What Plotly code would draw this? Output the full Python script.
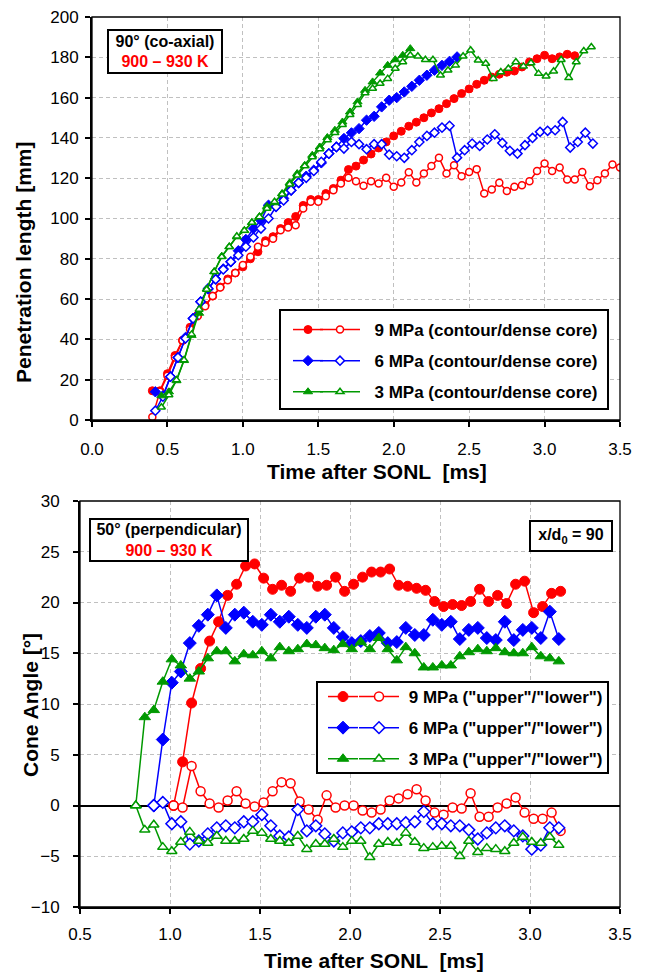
import plotly.graph_objects as go

# ---------------- top panel: penetration length, 90 deg (co-axial) ----------------
top_t9 = [0.40, 0.45, 0.50, 0.55, 0.60, 0.65, 0.70, 0.75, 0.80, 0.85, 0.90, 0.95, 1.00, 1.05, 1.10, 1.15,
          1.20, 1.25, 1.30, 1.35, 1.40, 1.45, 1.50, 1.55, 1.60, 1.65, 1.70, 1.75, 1.80, 1.85, 1.90, 1.95,
          2.00, 2.05, 2.10, 2.15, 2.20, 2.25, 2.30, 2.35, 2.40, 2.45, 2.50, 2.55, 2.60, 2.65, 2.70, 2.75,
          2.80, 2.85, 2.90, 2.95, 3.00, 3.05, 3.10, 3.15, 3.20, 3.25, 3.30, 3.35, 3.40, 3.45, 3.50]
top_t6 = [0.42, 0.47, 0.52, 0.57, 0.62, 0.67, 0.72, 0.77, 0.82, 0.87, 0.92, 0.97, 1.02, 1.07, 1.12, 1.17,
          1.22, 1.27, 1.32, 1.37, 1.42, 1.47, 1.52, 1.57, 1.62, 1.67, 1.72, 1.77, 1.82, 1.87, 1.92, 1.97,
          2.02, 2.07, 2.12, 2.17, 2.22, 2.27, 2.32, 2.37, 2.42, 2.47, 2.52, 2.57, 2.62, 2.67, 2.72, 2.77,
          2.82, 2.87, 2.92, 2.97, 3.02, 3.07, 3.12, 3.17, 3.22, 3.27, 3.32]
top_t3 = [0.46, 0.51, 0.56, 0.61, 0.66, 0.71, 0.76, 0.81, 0.86, 0.91, 0.96, 1.01, 1.06, 1.11, 1.16, 1.21,
          1.26, 1.31, 1.36, 1.41, 1.46, 1.51, 1.56, 1.61, 1.66, 1.71, 1.76, 1.81, 1.86, 1.91, 1.96, 2.01,
          2.06, 2.11, 2.16, 2.21, 2.26, 2.31, 2.36, 2.41, 2.46, 2.51, 2.56, 2.61, 2.66, 2.71, 2.76, 2.81,
          2.86, 2.91, 2.96, 3.01, 3.06, 3.11, 3.16, 3.21, 3.26, 3.31]

pen9_contour = [14.5, 14.5, 23, 32, 39.5, 46, 52, 57, 61.5, 66, 70, 73, 76, 80, 83.5, 89, 91, 95, 98, 101,
                106.5, 109.4, 109.4, 112.4, 114.9, 119, 124.3, 126, 129, 132, 135, 138, 141, 143.3, 145.8,
                147.8, 150, 152.4, 154.5, 157, 159.5, 162, 164.3, 166.6, 168.6, 170.2, 171.6, 172.6, 173.2,
                175.2, 177.7, 179.3, 181, 179.3, 180.2, 181.5, 180.8]
pen9_core = [1.5, 14, 22, 31, 39.5, 45, 51.5, 56.5, 61.5, 65.8, 69.4, 73, 76.9, 81, 86, 88, 90, 94.2, 95.5,
             96.7, 105, 108.3, 108.3, 111, 114, 117.4, 120.2, 118.5, 116.2, 118.5, 117.4, 120.2, 115.7,
             117.9, 123, 117.9, 122.3, 126.1, 130.2, 122.3, 126.4, 121, 123.1, 124.5, 112.4, 114.4, 117.7,
             113.6, 115.7, 116.5, 118.5, 123.6, 127.3, 123.6, 125.3, 119.3, 119.3, 123.1, 116, 119, 122.3,
             126.8, 125.3]
pen6_contour = [14, 12, 21.5, 31, 41, 50.4, 58.7, 65, 70, 75, 78.5, 84, 89.6, 95, 99, 106.6, 106, 110, 114,
                117.7, 121, 124, 127.6, 132.2, 135.5, 139.7, 142.5, 144.6, 148.8, 150.7, 155.4, 158.7, 160,
                162.8, 165.6, 168.6, 171.1, 173.6, 176, 178, 180.2]
pen6_core = [4.6, 11.6, 21.5, 31, 40.5, 50.4, 58.7, 65.3, 69.8, 74.7, 78.5, 81.8, 86, 90.6, 95, 100, 105.8,
             109, 114, 117.7, 120.2, 123.6, 128.1, 132.2, 135.5, 134.7, 138, 136.9, 134.4, 136.9, 136.9,
             131.7, 130.9, 130.1, 133.9, 138, 141, 142.6, 145.1, 146, 130.2, 133.9, 137.2, 136, 139.2,
             141.8, 137.5, 133.6, 132.2, 136.4, 140, 143, 143.5, 143.8, 147.9, 135.2, 138, 142.6, 137.2]
pen3_contour = [12, 14, 19.5, 29.5, 42, 53, 65, 73.6, 81.3, 86, 90.9, 94, 98, 101, 106, 107.8, 112.4, 117.7,
                122.3, 126.4, 131.4, 135.5, 140.2, 143.8, 147.9, 152.9, 157.9, 163.6, 167.8, 172.2, 176,
                178.8, 181, 184.3]
pen3_core = [6.3, 12.4, 19.8, 29.8, 42.5, 54.9, 64.8, 73.6, 81, 86, 91.2, 94, 98, 100.8, 105, 108.3, 112,
             117, 121.5, 126, 130.5, 134.5, 139, 142.5, 146.5, 151.5, 156.5, 162.3, 164.5, 167, 169.4,
             174.4, 177.7, 181, 180.5, 178.8, 178.8, 171.1, 173.6, 176, 180.5, 183.5, 178.5, 176.9, 169.4,
             172.7, 174.4, 177.7, 175.5, 177.2, 171.9, 170.6, 173.1, 178.8, 169.8, 177.7, 183.1, 185.1]

# ---------------- bottom panel: cone angle, 50 deg (perpendicular) ----------------
bot_t9 = [1.02, 1.07, 1.12, 1.17, 1.22, 1.27, 1.32, 1.37, 1.42, 1.47, 1.52, 1.57, 1.62, 1.67, 1.72, 1.77,
          1.82, 1.87, 1.92, 1.97, 2.02, 2.07, 2.12, 2.17, 2.22, 2.27, 2.32, 2.37, 2.42, 2.47, 2.52, 2.57,
          2.62, 2.67, 2.72, 2.77, 2.82, 2.87, 2.92, 2.97, 3.02, 3.07, 3.12, 3.17]
bot_t6 = [0.91, 0.96, 1.01, 1.06, 1.11, 1.16, 1.21, 1.26, 1.31, 1.36, 1.41, 1.46, 1.51, 1.56, 1.61, 1.66,
          1.71, 1.76, 1.81, 1.86, 1.91, 1.96, 2.01, 2.06, 2.11, 2.16, 2.21, 2.26, 2.31, 2.36, 2.41, 2.46,
          2.51, 2.56, 2.61, 2.66, 2.71, 2.76, 2.81, 2.86, 2.91, 2.96, 3.01, 3.06, 3.11, 3.16]
bot_t3 = [0.81, 0.86, 0.91, 0.96, 1.01, 1.06, 1.11, 1.16, 1.21, 1.26, 1.31, 1.36, 1.41, 1.46, 1.51, 1.56,
          1.61, 1.66, 1.71, 1.76, 1.81, 1.86, 1.91, 1.96, 2.01, 2.06, 2.11, 2.16, 2.21, 2.26, 2.31, 2.36,
          2.41, 2.46, 2.51, 2.56, 2.61, 2.66, 2.71, 2.76, 2.81, 2.86, 2.91, 2.96, 3.01, 3.06, 3.11, 3.16]

cone9_upper = [0, 4.3, 10.1, 13.5, 16.2, 18.1, 20.7, 21.8, 23.6, 23.8, 22.4, 21.3, 21.7, 21.1, 22.4, 22.5,
               21.6, 21.7, 22.5, 21.1, 21.8, 22.5, 23.0, 23.0, 23.3, 21.7, 21.6, 21.4, 21.2, 20.1, 19.6,
               19.8, 19.7, 20.1, 21.3, 20.1, 20.7, 19.9, 21.8, 22.1, 19.0, 19.6, 20.9, 21.1]
cone9_lower = [0, -0.2, 3.9, 1.4, 0.2, -0.2, 0.5, 1.4, 0.2, -0.1, 0.3, 1.4, 2.3, 2.2, 0.4, -0.4, -1.4, 1.0,
               -0.2, 0, 0, -0.5, -0.7, -0.4, 0.5, 0.7, 1.1, 1.6, 0.5, -0.7, -0.9, -0.2, -0.3, 1.2, -1.1,
               -1.1, -0.2, 0.2, 0.8, -0.7, -1.3, -1.3, -0.7, -2.5]
cone6_upper = [0, 6.5, 12.1, 13.2, 16.0, 17.7, 18.8, 20.7, 17.5, 18.8, 19.0, 18.1, 17.8, 18.8, 18.1, 18.6,
               17.8, 17.5, 18.6, 18.8, 17.5, 16.6, 16.0, 16.2, 16.7, 17.0, 16.0, 16.1, 17.5, 16.8, 16.8,
               18.3, 17.8, 18.1, 16.4, 17.3, 17.5, 16.5, 16.3, 18.1, 16.3, 17.3, 17.5, 16.5, 19.1, 16.4]
cone6_lower = [0, 0.3, -1.8, -1.6, -3.8, -3.5, -2.8, -2.2, -2.0, -2.2, -1.6, -1.6, -0.9, -2.0, -3.0, -3.1,
               -0.4, -2.5, -2.0, -2.8, -3.5, -2.7, -2.6, -2.2, -2.2, -1.8, -1.8, -1.8, -1.7, -1.6, -0.6,
               -1.8, -1.8, -2.0, -2.0, -2.4, -3.3, -2.7, -2.2, -2.0, -2.5, -3.0, -4.3, -3.9, -2.2, -2.2]
cone3_upper = [0, 8.7, 9.4, 12.2, 14.4, 13.8, 12.5, 13.2, 14.5, 15.2, 15.2, 14.2, 14.9, 14.8, 15.2, 14.5,
               15.6, 15.2, 15.4, 15.9, 15.8, 15.5, 15.3, 15.9, 15.4, 16.1, 15.4, 16.5, 15.4, 14.3, 15.6,
               15.0, 13.6, 13.6, 13.8, 13.8, 14.7, 15.1, 15.4, 15.2, 15.5, 15.1, 15.0, 15.0, 15.6, 14.7,
               14.5, 14.2]
cone3_lower = [0, -2.4, -1.9, -4.1, -4.5, -3.6, -2.6, -3.5, -3.7, -3.0, -3.5, -3.5, -3.3, -2.5, -2.7, -3.3,
               -3.5, -3.7, -3.0, -4.3, -3.8, -3.8, -3.3, -4.1, -3.5, -3.5, -5.1, -3.8, -3.6, -3.7, -2.7,
               -3.6, -4.2, -4.1, -4.0, -4.0, -5.0, -3.5, -4.6, -4.2, -4.3, -4.5, -3.7, -3.1, -3.6, -3.7,
               -3.1, -3.9]

RED = '#ff0000'
BLUE = '#0000ff'
GREEN = '#009900'
FONT = 'Liberation Sans, Arial, sans-serif'

# the page body keeps an 8px margin, so the figure is 8px smaller and
# every position below is given in window pixels and shifted by 8
OFF = 8
W, H = 648 - OFF, 975 - OFF


def px(x):
    return (x - OFF) / W


def py(y):
    return 1 - (y - OFF) / H


fig = go.Figure()


def add_pair(t, filled, opened, color, symbol, label, xa, ya, leg_f, leg_o, size, pad):
    # filled symbol = first quantity, white-filled symbol = second quantity
    fig.add_trace(go.Scatter(
        x=t[:len(filled)], y=filled, mode='lines+markers', xaxis=xa, yaxis=ya,
        line=dict(color=color, width=1.5),
        marker=dict(symbol=symbol, size=size, color=color, line=dict(color=color, width=1)),
        name=' ', legend=leg_f, legendgroup=leg_f + label))
    fig.add_trace(go.Scatter(
        x=t[:len(opened)], y=opened, mode='lines+markers', xaxis=xa, yaxis=ya,
        line=dict(color=color, width=1.5),
        marker=dict(symbol=symbol, size=size - 1, color='white', line=dict(color=color, width=1.5)),
        name=pad + '<b>' + label + '</b>', legend=leg_o, legendgroup=leg_o + label))


add_pair(top_t9, pen9_contour, pen9_core, RED, 'circle', '9 MPa (contour/dense core)', 'x', 'y', 'legend', 'legend2', 8, '&nbsp;&nbsp;')
add_pair(top_t6, pen6_contour, pen6_core, BLUE, 'diamond', '6 MPa (contour/dense core)', 'x', 'y', 'legend', 'legend2', 8, '&nbsp;&nbsp;')
add_pair(top_t3, pen3_contour, pen3_core, GREEN, 'triangle-up', '3 MPa (contour/dense core)', 'x', 'y', 'legend', 'legend2', 8, '&nbsp;&nbsp;')

add_pair(bot_t9, cone9_upper, cone9_lower, RED, 'circle', '9 MPa ("upper"/"lower")', 'x2', 'y2', 'legend3', 'legend4', 10, '&nbsp;')
add_pair(bot_t6, cone6_upper, cone6_lower, BLUE, 'diamond', '6 MPa ("upper"/"lower")', 'x2', 'y2', 'legend3', 'legend4', 10, '&nbsp;')
add_pair(bot_t3, cone3_upper, cone3_lower, GREEN, 'triangle-up', '3 MPa ("upper"/"lower")', 'x2', 'y2', 'legend3', 'legend4', 10, '&nbsp;')

axis_common = dict(
    showline=True, linecolor='black', linewidth=2, mirror=False,
    ticks='outside', ticklen=5, tickwidth=1.5, tickcolor='black',
    showgrid=True, gridcolor='#c0c0c0', griddash='4px,3px', gridwidth=1,
    zeroline=False, automargin=False, ticklabeloverflow='allow',
    tickfont=dict(family=FONT, size=17, color='black'),
)

legend_common = dict(
    xref='paper', yref='paper', xanchor='left', yanchor='top',
    bgcolor='rgba(0,0,0,0)', borderwidth=0, traceorder='grouped', tracegroupgap=6,
    itemsizing='trace', font=dict(family=FONT, size=17, color='black'),
)

title_font = dict(family=FONT, size=21, color='black')
box_font = dict(family=FONT, size=16, color='black')
K_TEXT = "<span style='color:#ff0000'>900 – 930 K</span>"


def note(x, y, text, font, **kw):
    return dict(xref='paper', yref='paper', x=px(x), y=py(y), xanchor='center', yanchor='middle',
                showarrow=False, text=text, font=font, **kw)


fig.update_layout(
    width=W, height=H, margin=dict(l=0, r=0, t=0, b=0),
    paper_bgcolor='white', plot_bgcolor='white',
    font=dict(family=FONT, size=16, color='black'),
    showlegend=True,
    xaxis=dict(axis_common, domain=[px(92), px(620)], anchor='y', range=[0, 3.5], dtick=0.5,
               tickformat='.1f', ticklabelstandoff=8),
    yaxis=dict(axis_common, domain=[py(420), py(17)], anchor='x', range=[0, 200], dtick=20,
               ticklabelstandoff=3),
    xaxis2=dict(axis_common, domain=[px(80), px(620)], anchor='y2', range=[0.5, 3.5], dtick=0.5,
                tickformat='.1f', ticklabelstandoff=6),
    yaxis2=dict(axis_common, domain=[py(907), py(501)], anchor='x2', range=[-10, 30], dtick=5,
                zeroline=True, zerolinecolor='black', zerolinewidth=1.5, ticklabelstandoff=10),
    legend=dict(legend_common, x=px(288), y=py(312)),
    legend2=dict(legend_common, x=px(315), y=py(312), itemwidth=40),
    legend3=dict(legend_common, x=px(323), y=py(679)),
    legend4=dict(legend_common, x=px(354), y=py(679), itemwidth=40),
    shapes=[
        # thin frame on the top and right of both plot areas
        dict(type='rect', xref='x domain', yref='y domain', x0=0, x1=1, y0=0, y1=1,
             line=dict(color='black', width=1.3), layer='above'),
        dict(type='rect', xref='x2 domain', yref='y2 domain', x0=0, x1=1, y0=0, y1=1,
             line=dict(color='black', width=1.3), layer='above'),
        # legend frames
        dict(type='rect', xref='paper', yref='paper', x0=px(280), x1=px(608), y0=py(409), y1=py(310),
             line=dict(color='black', width=2), fillcolor='white', layer='above'),
        dict(type='rect', xref='paper', yref='paper', x0=px(317), x1=px(608), y0=py(773), y1=py(682),
             line=dict(color='black', width=2), fillcolor='white', layer='above'),
    ],
    annotations=[
        note(377, 471, '<b>Time after SONL  [ms]</b>', title_font),
        note(374, 960, '<b>Time after SONL  [ms]</b>', title_font),
        note(23, 262, '<b>Penetration length [mm]</b>', title_font, textangle=-90),
        note(30, 705, '<b>Cone Angle [°]</b>', title_font, textangle=-90),
        note(165, 51.5, '<b>90° (co-axial)</b><br><b>' + K_TEXT + '</b>', box_font, align='center',
             width=108, height=37, bordercolor='black', borderwidth=2, borderpad=2, bgcolor='white'),
        note(169, 540, '<b>50° (perpendicular)</b><br><b>' + K_TEXT + '</b>', box_font, align='center',
             width=152, height=36, bordercolor='black', borderwidth=2, borderpad=2, bgcolor='white'),
        note(571, 536, '<b>x/d<sub>0</sub> = 90</b>', box_font,
             width=76, height=24, bordercolor='black', borderwidth=2, borderpad=2, bgcolor='white'),
    ],
)

fig.write_html('out.html')
